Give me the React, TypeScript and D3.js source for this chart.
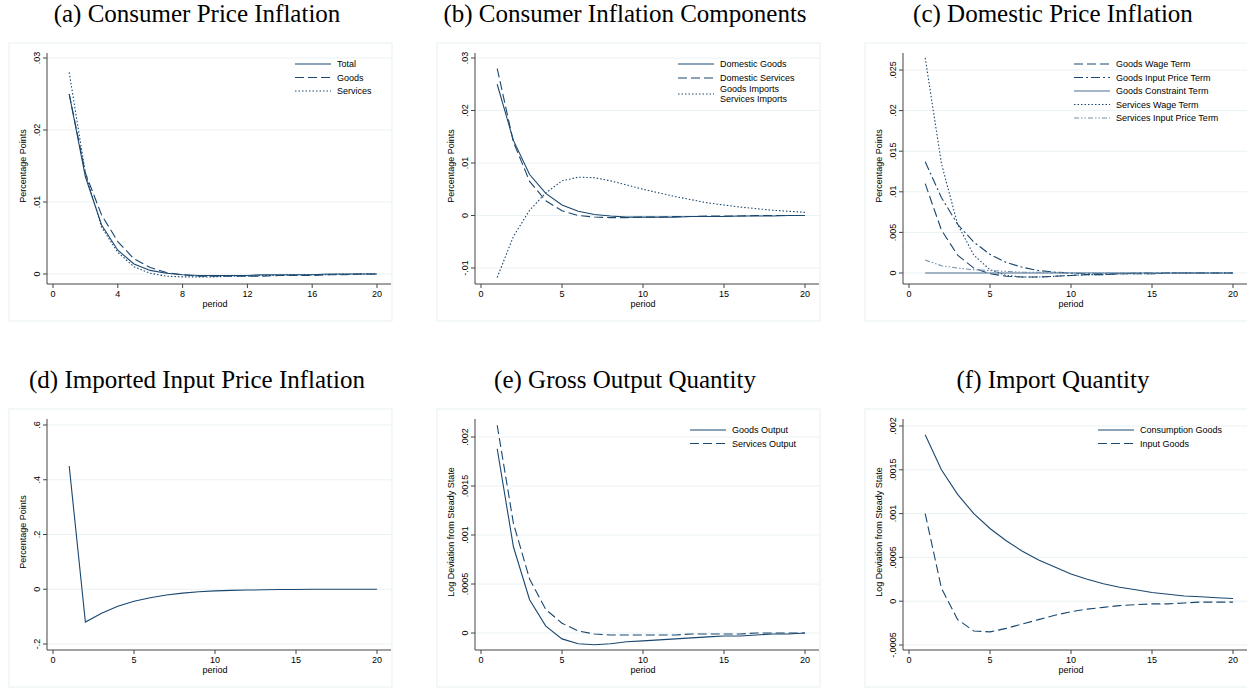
import React from 'react';
import * as d3 from 'd3';

const periods = d3.range(1, 21);

// (a)
const cpiTotal = [0.025, 0.0135, 0.0068, 0.0033, 0.0014, 0.0005, 0.0001, -0.0001, -0.0002, -0.0002, -0.0002, -0.0002, -0.0001, -0.0001, -0.0001, -0.0001, 0, 0, 0, 0];
const cpiGoods = [0.025, 0.014, 0.0082, 0.0045, 0.0021, 0.0009, 0.0002, -0.0001, -0.0003, -0.0003, -0.0003, -0.0003, -0.0003, -0.0002, -0.0002, -0.0002, -0.0001, -0.0001, 0, 0];
const cpiServices = [0.028, 0.014, 0.0065, 0.003, 0.001, 0.0001, -0.0003, -0.0004, -0.0004, -0.0004, -0.0003, -0.0003, -0.0002, -0.0002, -0.0001, -0.0001, -0.0001, 0, 0, 0];
// (b)
const domGoods = [0.025, 0.0143, 0.0078, 0.0042, 0.002, 0.0008, 0.0002, -0.0001, -0.0003, -0.0003, -0.0003, -0.0003, -0.0002, -0.0002, -0.0002, -0.0001, -0.0001, -0.0001, 0, 0];
const domServices = [0.028, 0.014, 0.0065, 0.0028, 0.0009, 0, -0.0003, -0.0004, -0.0004, -0.0003, -0.0003, -0.0002, -0.0002, -0.0001, -0.0001, -0.0001, 0, 0, 0, 0];
const imports = [-0.0118, -0.004, 0.001, 0.0043, 0.0066, 0.0073, 0.0072, 0.0066, 0.0058, 0.005, 0.0043, 0.0036, 0.003, 0.0024, 0.002, 0.0016, 0.0013, 0.001, 0.0008, 0.0006];
// (c)
const goodsWage = [0.011, 0.0053, 0.0022, 0.0006, -0.0001, -0.0004, -0.0005, -0.0005, -0.0004, -0.0003, -0.0002, -0.0002, -0.0001, -0.0001, -0.0001, 0, 0, 0, 0, 0];
const goodsInput = [0.0137, 0.0093, 0.006, 0.0038, 0.0023, 0.0013, 0.0007, 0.0003, 0.0001, 0, -0.0001, -0.0001, -0.0001, 0, 0, 0, 0, 0, 0, 0];
const goodsConstraint = [0, 0, 0, 0, 0, 0, 0, 0, 0, 0, 0, 0, 0, 0, 0, 0, 0, 0, 0, 0];
const servicesWage = [0.0265, 0.0135, 0.006, 0.0022, 0.0004, -0.0003, -0.0005, -0.0005, -0.0004, -0.0003, -0.0002, -0.0002, -0.0001, -0.0001, -0.0001, 0, 0, 0, 0, 0];
const servicesInput = [0.0016, 0.0009, 0.0006, 0.0004, 0.0003, 0.0002, 0.0001, 0.0001, 0.0001, 0, 0, 0, 0, 0, 0, 0, 0, 0, 0, 0];
// (d)
const importedInput = [0.45, -0.12, -0.088, -0.062, -0.044, -0.031, -0.021, -0.014, -0.009, -0.006, -0.004, -0.003, -0.002, -0.001, -0.001, 0, 0, 0, 0, 0];
// (e)
const goodsOutput = [0.00188, 0.00088, 0.00034, 0.00007, -0.00006, -0.00011, -0.00012, -0.00011, -0.00009, -0.00008, -0.00007, -0.00006, -0.00005, -0.00004, -0.00003, -0.00003, -0.00002, -0.00001, -0.00001, 0];
const servicesOutput = [0.00212, 0.00112, 0.00055, 0.00024, 0.0001, 0.00002, -0.00001, -0.00002, -0.00002, -0.00002, -0.00002, -0.00002, -0.00001, -0.00001, -0.00001, -0.00001, 0, 0, 0, 0];
// (f)
const consGoods = [0.0019, 0.0015, 0.00122, 0.001, 0.00083, 0.00069, 0.00057, 0.00047, 0.00039, 0.00031, 0.00025, 0.0002, 0.00016, 0.00013, 0.0001, 0.00008, 0.00006, 0.00005, 0.00004, 0.00003];
const inputGoods = [0.001, 0.00015, -0.00021, -0.00034, -0.00035, -0.00031, -0.00026, -0.00021, -0.00016, -0.00012, -0.00009, -0.00007, -0.00005, -0.00004, -0.00003, -0.00003, -0.00002, -0.00001, -0.00001, -0.00001];

const xTicksA = [0, 4, 8, 12, 16, 20];
const xTicks5 = [0, 5, 10, 15, 20];
const yTicksA = [0, 0.01, 0.02, 0.03];
const yTicksB = [-0.01, 0, 0.01, 0.02, 0.03];
const yTicksC = [0, 0.005, 0.01, 0.015, 0.02, 0.025];
const yTicksD = [-0.2, 0, 0.2, 0.4, 0.6];
const yTicksE = [0, 0.0005, 0.001, 0.0015, 0.002];
const yTicksF = [-0.0005, 0, 0.0005, 0.001, 0.0015, 0.002];

const NAVY = '#1a476f';
const DASH: Record<string, string | undefined> = {
  solid: undefined,
  dash: '9,4',
  dot: '1.5,2',
  dashdot: '9,3,2,3',
  dashdotdot: '5,2,1.5,2,1.5,2',
};

const fmt = (v: number) => {
  if (v === 0) return '0';
  const s = String(+v.toFixed(5));
  return s.replace('0.', '.');
};

interface Series { name: string; values: number[]; style: string; color?: string; }
interface PanelProps {
  title: string; yTitle: string; top: number; left: number;
  xTicks: number[]; yTicks: number[]; yPix: [number, number]; series: Series[];
  legendX: number; legendRowsY?: number[]; legendLabel?: string[][];
}

const Panel: React.FC<PanelProps> = ({ title, yTitle, top, left, xTicks, yTicks, yPix, series, legendX, legendRowsY, legendLabel }) => {
  const axisX = left + 38;
  const x0 = left + 44;
  const x1 = left + 368;
  const yBot = top + yPix[0];
  const yTop = top + yPix[1];
  const axisY = top + 241;
  const x = d3.scaleLinear().domain([0, 20]).range([x0, x1]);
  const y = d3.scaleLinear().domain([yTicks[0], yTicks[yTicks.length - 1]]).range([yBot, yTop]);
  const line = d3.line<number>().x((_, i) => x(periods[i])).y(d => y(d));
  const rows = legendRowsY ?? series.map((_, i) => i * 13.5);
  return (
    <g>
      <text x={left + 188} y={top - 21} textAnchor="middle" fontFamily="'Liberation Serif', 'Times New Roman', serif" fontSize={25}>{title}</text>
      <rect x={left} y={top} width={383} height={278} fill="#fff" stroke="#e6eff1" strokeWidth={1} />
      {yTicks.map(t => (
        <line key={t} x1={axisX} x2={left + 382} y1={y(t)} y2={y(t)} stroke="#eaf2f3" strokeWidth={1} />
      ))}
      {series.map(s => (
        <path key={s.name} d={line(s.values) ?? ''} fill="none" stroke={s.color ?? NAVY} strokeWidth={1.1} strokeDasharray={DASH[s.style]} />
      ))}
      <line x1={axisX} x2={axisX} y1={top + 10} y2={axisY} stroke="#444" />
      <line x1={axisX} x2={left + 382} y1={axisY} y2={axisY} stroke="#444" />
      {yTicks.map(t => (
        <g key={t}>
          <line x1={axisX - 4} x2={axisX} y1={y(t)} y2={y(t)} stroke="#444" />
          <text transform={`translate(${axisX - 7},${y(t)}) rotate(-90)`} textAnchor="middle" fontFamily="'Liberation Sans', Arial, sans-serif" fontSize={9}>{fmt(t)}</text>
        </g>
      ))}
      {xTicks.map(t => (
        <g key={t}>
          <line x1={x(t)} x2={x(t)} y1={axisY} y2={axisY + 4} stroke="#444" />
          <text x={x(t)} y={axisY + 13} textAnchor="middle" fontFamily="'Liberation Sans', Arial, sans-serif" fontSize={9}>{t}</text>
        </g>
      ))}
      <text x={x(10)} y={axisY + 23} textAnchor="middle" fontFamily="'Liberation Sans', Arial, sans-serif" fontSize={9}>period</text>
      <text transform={`translate(${axisX - 21},${top + 123}) rotate(-90)`} textAnchor="middle" fontFamily="'Liberation Sans', Arial, sans-serif" fontSize={9}>{yTitle}</text>
      {series.map((s, i) => {
        const ly = top + 21 + rows[i];
        const labels = legendLabel?.[i] ?? [s.name];
        return (
          <g key={s.name}>
            <line x1={legendX} x2={legendX + 36} y1={ly} y2={ly} stroke={s.color ?? NAVY} strokeWidth={1.1} strokeDasharray={DASH[s.style]} />
            {labels.map((l, j) => (
              <text key={l} x={legendX + 42} y={ly + 3 + (labels.length > 1 ? (j - 0.5) * 10 : 0)} fontFamily="'Liberation Sans', Arial, sans-serif" fontSize={9}>{l}</text>
            ))}
          </g>
        );
      })}
    </g>
  );
};

export default function App() {
  return (
    <svg width={1247} height={689} style={{ position: 'absolute', left: 0, top: 0, background: '#fff' }}>
      <rect width={1247} height={689} fill="#fff" />
      <Panel title="(a) Consumer Price Inflation" yTitle="Percentage Points" top={43} left={9}
        xTicks={xTicksA} yTicks={yTicksA} yPix={[231, 15]} legendX={295}
        series={[
          { name: 'Total', values: cpiTotal, style: 'solid' },
          { name: 'Goods', values: cpiGoods, style: 'dash' },
          { name: 'Services', values: cpiServices, style: 'dot' },
        ]} />
      <Panel title="(b) Consumer Inflation Components" yTitle="Percentage Points" top={43} left={437}
        xTicks={xTicks5} yTicks={yTicksB} yPix={[225, 15]} legendX={678} legendRowsY={[0, 14, 30]}
        legendLabel={[['Domestic Goods'], ['Domestic Services'], ['Goods Imports', 'Services Imports']]}
        series={[
          { name: 'Domestic Goods', values: domGoods, style: 'solid' },
          { name: 'Domestic Services', values: domServices, style: 'dash' },
          { name: 'Goods Imports', values: imports, style: 'dot' },
        ]} />
      <Panel title="(c) Domestic Price Inflation" yTitle="Percentage Points" top={43} left={865}
        xTicks={xTicks5} yTicks={yTicksC} yPix={[230, 27]} legendX={1074}
        series={[
          { name: 'Goods Wage Term', values: goodsWage, style: 'dash' },
          { name: 'Goods Input Price Term', values: goodsInput, style: 'dashdot' },
          { name: 'Goods Constraint Term', values: goodsConstraint, style: 'solid', color: '#4a6f90' },
          { name: 'Services Wage Term', values: servicesWage, style: 'dot' },
          { name: 'Services Input Price Term', values: servicesInput, style: 'dashdotdot', color: '#6f8fad' },
        ]} />
      <Panel title="(d) Imported Input Price Inflation" yTitle="Percentage Points" top={409} left={9}
        xTicks={xTicks5} yTicks={yTicksD} yPix={[235, 16]} legendX={0} series={[
          { name: 'Imported', values: importedInput, style: 'solid' },
        ]} legendLabel={[[]]} legendRowsY={[-1000]} />
      <Panel title="(e) Gross Output Quantity" yTitle="Log Deviation from Steady State" top={409} left={437}
        xTicks={xTicks5} yTicks={yTicksE} yPix={[224, 28]} legendX={690}
        series={[
          { name: 'Goods Output', values: goodsOutput, style: 'solid' },
          { name: 'Services Output', values: servicesOutput, style: 'dash' },
        ]} />
      <Panel title="(f) Import Quantity" yTitle="Log Deviation from Steady State" top={409} left={865}
        xTicks={xTicks5} yTicks={yTicksF} yPix={[236, 17]} legendX={1098}
        series={[
          { name: 'Consumption Goods', values: consGoods, style: 'solid' },
          { name: 'Input Goods', values: inputGoods, style: 'dash' },
        ]} />
    </svg>
  );
}
